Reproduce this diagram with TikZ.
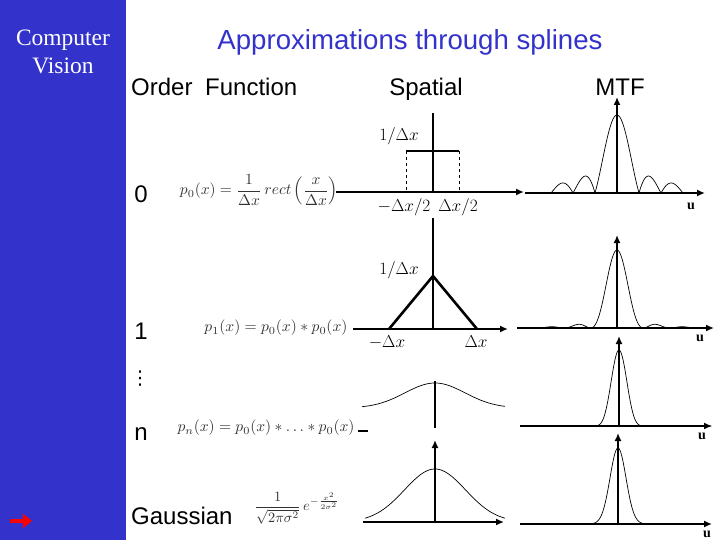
\documentclass[tikz,border=0pt]{standalone}
\usepackage[no-math]{fontspec}
\usepackage{graphicx}
\setmainfont{Liberation Sans}
\newfontfamily\serifcv{Liberation Serif}
\newfontfamily\dejavu{DejaVu Sans}
\usetikzlibrary{arrows.meta}
\definecolor{sideblue}{RGB}{51,51,204}
\begin{document}
\begin{tikzpicture}[x=1pt,y=-1pt,
  axis/.style={line width=2.6pt},
  axarrow/.style={line width=2.6pt,-{Latex[length=8pt,width=7pt]}},
  curve/.style={line width=0.7pt},
  hdr/.style={font=\fontsize{24}{28}\selectfont, inner sep=0pt, anchor=base},
  lbl/.style={font=\fontsize{16.5}{18}\selectfont, inner sep=0pt},
  frm/.style={text=black!80, inner sep=0pt},
  ulbl/.style={font=\serifcv\bfseries\fontsize{14}{14}\selectfont, inner sep=0pt}
  ]
\useasboundingbox (0,0) rectangle (720,540);
\fill[sideblue] (0,0) rectangle (126,540);
\node[font=\serifcv\fontsize{23.5}{28}\selectfont, text=white, align=center, inner sep=0pt] (cv) at (63,52) {Computer\\Vision};
\draw[red, line width=4.5pt, -{Triangle[length=9pt,width=14pt]}] (10,521) -- (32,521);

% title and headers
\node[text=sideblue, font=\fontsize{27.6}{30}\selectfont, inner sep=0pt, anchor=base] (title) at (410,50) {Approximations through splines};
\node[hdr, anchor=base west] (order) at (131,96) {Order};
\node[hdr, anchor=base west] (func) at (205,96) {Function};
\node[hdr] (spatial) at (426,96) {Spatial};
\node[hdr] (mtf) at (620,96) {MTF};

% row labels
\node[hdr] (r0) at (141,203) {0};
\node[hdr] (r1) at (141,339) {1};
\node[font=\dejavu\fontsize{19}{19}\selectfont, inner sep=0pt] (dots) at (140,379) {⋮};
\node[hdr] (rn) at (141,440) {n};
\node[hdr, anchor=base west] (rg) at (131,524) {Gaussian};

% formulas
\node[frm] (f0) at (259,190) {\resizebox{158pt}{!}{$\displaystyle p_0(x) = \frac{1}{\Delta x}\, rect\left(\frac{x}{\Delta x}\right)$}};
\node[frm] (f1) at (276,328) {\resizebox{143pt}{!}{$p_1(x) = p_0(x) * p_0(x)$}};
\node[frm] (fn) at (266,428) {\resizebox{177pt}{!}{$p_n(x) = p_0(x) * \ldots * p_0(x)$}};
\node[frm] (fg) at (297,508) {\resizebox{85pt}{!}{$\displaystyle \frac{1}{\sqrt{2\pi\sigma^2}}\, e^{-\frac{x^2}{2\sigma^2}}$}};

% ---------- spatial row 0
\draw[axarrow] (336,192) -- (524,192);
\draw[axis] (433,113) -- (433,192);
\draw[axis] (406,151) -- (459,151);
\draw[dashed, line width=0.6pt] (406,151) -- (406,192) (459,151) -- (459,192);
\node[lbl] (s0h) at (399,136) {$1/\Delta x$};
\node[lbl] (s0l) at (404,207) {$-\Delta x/2$};
\node[lbl] (s0r) at (458,207) {$\Delta x/2$};

% ---------- spatial row 1
\draw[axarrow] (353,329) -- (508,329);
\draw[line width=2pt] (433,218) -- (433,329);
\draw[line width=2.6pt, line join=miter] (389,329) -- (433,276) -- (477,329);
\node[lbl] (s1h) at (399,270) {$1/\Delta x$};
\node[lbl] (s1l) at (387,342) {$-\Delta x$};
\node[lbl] (s1r) at (476,342) {$\Delta x$};

% ---------- spatial row n
\draw[axis] (358,431) -- (368,431);
\draw[curve] plot[domain=362:505, samples=120] (\x,{408-25*exp(-((\x-435)^2)/(2*30^2))});
\draw[axis] (435,381) -- (435,428);

% ---------- spatial gaussian
\draw[curve] plot[domain=365:505, samples=120] (\x,{522-53*exp(-((\x-435)^2)/(2*30.5^2))});
\draw[axarrow] (363,522) -- (504,522);
\draw[axarrow] (435,522) -- (435,440);

% ---------- MTF row 0
\draw[curve] plot[domain=-3*pi:3*pi, samples=300] ({617+22*\x/pi},{193-78*abs(sin(\x r)/\x)});
\draw[axarrow] (525,193) -- (705,193);
\draw[axarrow] (617,193) -- (617,97);
\node[ulbl] (u0) at (691,206) {u};

% ---------- MTF row 1
\draw[curve] plot[domain=-3.5*pi:3.5*pi, samples=300] ({617+26.5*\x/pi},{328-78*(sin(\x r)/\x)^2});
\draw[axarrow] (517,328) -- (714,328);
\draw[axarrow] (617,328) -- (617,235);
\node[ulbl] (u1) at (700,338) {u};

% ---------- MTF row n
\draw[curve] plot[domain=-3.3*pi:3.3*pi, samples=300] ({619+28*\x/pi},{426-76*(sin(\x r)/\x)^4});
\draw[axarrow] (520,426) -- (712,426);
\draw[axarrow] (619,426) -- (619,336);
\node[ulbl] (un) at (702,436) {u};

% ---------- MTF gaussian
\draw[curve] plot[domain=590:646, samples=100] (\x,{524-76*exp(-((\x-618)^2)/(2*8^2))});
\draw[axarrow] (520,524) -- (712,524);
\draw[axarrow] (618,524) -- (618,433);
\node[ulbl] (ug) at (707,534) {u};
\end{tikzpicture}
\end{document}
